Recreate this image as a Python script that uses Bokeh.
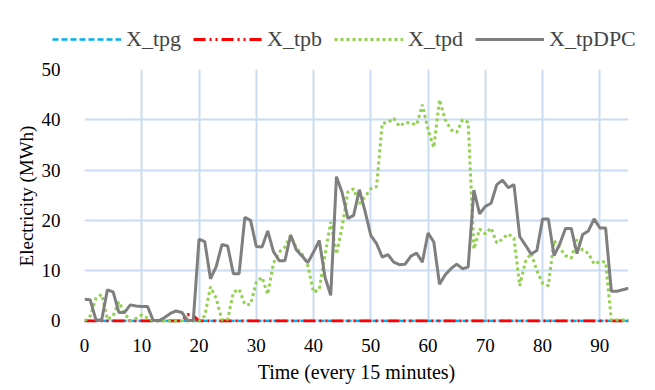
from bokeh.plotting import figure
from bokeh.models import Legend, LegendItem, SingleIntervalTicker, ColumnDataSource, Range1d
from bokeh.embed import file_html
from bokeh.resources import INLINE

time = list(range(96))

x_tpg = [0, 0, 0, 0, 0, 0, 0, 0, 0, 0,
         0, 0, 0, 0, 0, 0, 0, 0, 0, 0,
         0, 0, 0, 0, 0, 0, 0, 0, 0, 0,
         0, 0, 0, 0, 0, 0, 0, 0, 0, 0,
         0, 0, 0, 0, 0, 0, 0, 0, 0, 0,
         0, 0, 0, 0, 0, 0, 0, 0, 0, 0,
         0, 0, 0, 0, 0, 0, 0, 0, 0, 0,
         0, 0, 0, 0, 0, 0, 0, 0, 0, 0,
         0, 0, 0, 0, 0, 0, 0, 0, 0, 0,
         0, 0, 0, 0, 0, 0]

x_tpb = [0, 0, 0, 0, 0, 0, 0, 0, 0, 0,
         0, 0, 0, 0, 0, 0, 0, 0, 1.3, 1.0,
         0, 0, 0, 0, 0, 0, 0, 0, 0, 0,
         0, 0, 0, 0, 0, 0, 0, 0, 0, 0,
         0, 0, 0, 0, 0, 0, 0, 0, 0, 0,
         0, 0, 0, 0, 0, 0, 0, 0, 0, 0,
         0, 0, 0, 0, 0, 0, 0, 0, 0, 0,
         0, 0, 0, 0, 0, 0, 0, 0, 0, 0,
         0, 0, 0, 0, 0, 0, 0, 0, 0, 0,
         0, 0, 0, 0, 0, 0]

x_tpd = [0.0, 1.0, 4.5, 5.3, 0.3, 1.0, 3.8, 1.5, 0.0, 0.5,
         1.2, 0.6, 0.0, 0.0, 0.0, 0.0, 0.0, 0.0, 0.0, 0.0,
         0.0, 1.0, 6.8, 4.5, 0.2, 0.3, 5.7, 6.3, 3.3, 3.3,
         7.7, 8.7, 5.3, 11.5, 13.7, 14.7, 17.0, 14.5, 13.3, 11.0,
         5.7, 6.3, 13.0, 19.7, 13.3, 18.7, 25.7, 26.3, 23.3, 24.7,
         26.3, 26.7, 39.3, 39.5, 40.3, 38.7, 39.5, 39.3, 39.0, 43.0,
         38.0, 34.5, 44.0, 40.0, 38.0, 37.5, 40.0, 39.5, 14.3, 18.3,
         17.3, 18.5, 15.5, 16.3, 17.3, 16.5, 7.0, 11.8, 13.5, 10.0,
         7.5, 7.0, 16.0, 14.5, 13.0, 12.5, 16.2, 14.0, 13.5, 11.3,
         11.8, 11.7, 0.2, 0.2, 0.2, 0.2]

x_tpdpc = [4.3, 4.2, 0.2, 0.2, 6.2, 5.8, 1.7, 1.7, 3.2, 3.0,
           2.9, 2.9, 0.1, 0.1, 0.7, 1.5, 2.0, 1.7, 0.1, 0.1,
           16.3, 15.8, 8.4, 10.8, 15.2, 14.9, 9.4, 9.4, 20.6, 20.0,
           14.8, 14.7, 17.9, 13.8, 12.0, 12.0, 17.1, 14.1, 12.9, 11.6,
           13.7, 16.0, 8.7, 5.1, 28.7, 25.5, 20.4, 21.0, 26.1, 21.8,
           17.0, 15.4, 12.7, 13.2, 11.7, 11.2, 11.3, 12.9, 13.5, 11.7,
           17.5, 15.7, 7.3, 9.2, 10.4, 11.3, 10.4, 10.7, 26.0, 21.3,
           22.8, 23.4, 27.1, 28.0, 26.5, 27.1, 16.8, 15.1, 13.3, 14.0,
           20.3, 20.3, 13.0, 15.3, 18.4, 18.4, 13.4, 17.2, 17.9, 20.3,
           18.5, 18.5, 5.9, 5.9, 6.2, 6.5]

series_names = ["X_tpg", "X_tpb", "X_tpd", "X_tpDPC"]
colors = ["#00b0f0", "#ff0000", "#92d050", "#7f7f7f"]
widths = [2.5, 3, 3, 3]
dashes = ["6 3", "12 4 2 4 2 4", "3 3", "solid"]
keys = ["tpg", "tpb", "tpd", "dpc"]

src = ColumnDataSource(dict(t=time, tpg=x_tpg, tpb=x_tpb, tpd=x_tpd, dpc=x_tpdpc))

FONT = "Liberation Serif"

# ---- legend strip: a separate root so the legend may start left of the plot area
leg = figure(width=640, height=60, x_range=Range1d(1000, 1001), y_range=Range1d(1000, 1001),
             output_backend="svg", toolbar_location=None,
             x_axis_type=None, y_axis_type=None, min_border=0)
leg.outline_line_color = None
leg.xgrid.visible = False
leg.ygrid.visible = False
leg_items = []
for name, k, c, w, d in zip(series_names, keys, colors, widths, dashes):
    r = leg.line("t", k, source=src, line_color=c, line_width=w, line_dash=d)
    leg_items.append(LegendItem(label=name, renderers=[r]))
legend = Legend(items=leg_items, orientation="horizontal", location=(52, 8),
                glyph_width=69, glyph_height=20, label_standoff=5, spacing=12,
                padding=0, margin=0, border_line_color=None, background_fill_alpha=0,
                label_text_font=FONT, label_text_font_size="22px")
leg.add_layout(legend)

# ---- main chart
p = figure(width=640, height=328, x_range=Range1d(0, 95), y_range=Range1d(-0.3, 50),
           output_backend="svg", toolbar_location=None,
           min_border_left=84, min_border_right=12, min_border_top=9, min_border_bottom=66)
p.outline_line_color = None
p.background_fill_color = "white"

for k, c, w, d in zip(keys, colors, widths, dashes):
    p.line("t", k, source=src, line_color=c, line_width=w, line_dash=d)

for ax in (p.xaxis[0], p.yaxis[0]):
    ax.axis_line_color = None
    ax.major_tick_line_color = None
    ax.minor_tick_line_color = None
    ax.major_label_text_font = FONT
    ax.major_label_text_font_size = "19px"
    ax.major_label_text_color = "black"
    ax.axis_label_text_font = FONT
    ax.axis_label_text_font_style = "normal"
    ax.axis_label_text_color = "black"

p.xaxis.axis_label_text_font_size = "20px"
p.yaxis.axis_label_text_font_size = "19px"
p.xaxis.ticker = SingleIntervalTicker(interval=10)
p.yaxis.ticker = SingleIntervalTicker(interval=10)
p.xaxis.axis_label = "Time (every 15 minutes)"
p.yaxis.axis_label = "Electricity (MWh)"
p.xaxis.major_label_standoff = 10
p.yaxis.major_label_standoff = 18
p.xaxis.axis_label_standoff = 6
p.yaxis.axis_label_standoff = 2

for g in (p.xgrid[0], p.ygrid[0]):
    g.grid_line_color = "#cadcf0"
    g.grid_line_width = 2

open("out.html", "w").write(file_html([leg, p], INLINE))
